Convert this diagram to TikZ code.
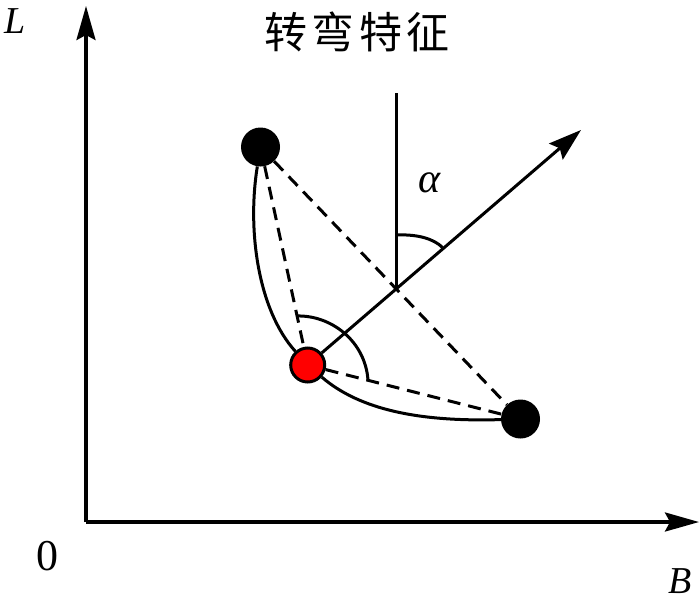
\documentclass[tikz,border=0pt]{standalone}
\usepackage{fontspec}
\setmainfont{Liberation Serif}
\newfontfamily\cjk[LetterSpace=10]{Noto Sans CJK SC}
\usetikzlibrary{arrows.meta}
\begin{document}
\begin{tikzpicture}[x=1pt,y=-1pt,
  axis/.style={line width=3.3pt,-{Stealth[length=34pt,width=19pt,inset=5pt]}},
  vec/.style={line width=3pt,-{Stealth[length=33pt,width=21pt,inset=5pt]}},
  ln/.style={line width=3pt},
  dsh/.style={line width=3pt,dash pattern=on 13pt off 8pt},
  blackdot/.style={circle,fill=black,minimum size=39pt,inner sep=0pt},
  reddot/.style={circle,fill=red,draw=black,line width=3pt,minimum size=34pt,inner sep=0pt},
  lbl/.style={inner sep=0pt,font=\fontsize{38}{38}\selectfont\itshape},
  num/.style={inner sep=0pt,font=\fontsize{44}{44}\selectfont}]
\useasboundingbox (0,0) rectangle (700,602);
% axes
\coordinate (O) at (86,522);
\coordinate (Ytip) at (86,6);
\coordinate (Xtip) at (699,522);
\draw[axis] (O) -- (Ytip);
\draw[axis] (O) -- (Xtip);
\node[lbl] (L) at (15,21) {L};
\node[lbl] (B) at (680,581) {B};
\node[num] (zero) at (47,556) {0};
\node[inner sep=0pt,font=\fontsize{43}{43}\selectfont\cjk] (title) at (357,32) {转弯特征};
% points
\node[blackdot] (TL) at (260.5,147) {};
\node[reddot] (R) at (307.7,365) {};
\node[blackdot] (BR) at (520.5,419) {};
\coordinate (X) at (396,288.5);
\coordinate (V) at (396,93);
\coordinate (tip) at (581,130);
% dashed lines
\draw[dsh] (TL) -- (BR);
\draw[dsh] (TL) -- (R);
\draw[dsh] (R) -- (BR);
% solid curves
\draw[ln] (TL) .. controls (247,230) and (258,310) .. (R);
\draw[ln] (R) .. controls (360,410) and (420,422) .. (BR);
% vertical line and arrow
\draw[ln] (V) -- (X);
\draw[vec] (R) -- (tip);
% angle arcs
\coordinate (a1) at (396,235);
\coordinate (a2) at (442.5,247.5);
\draw[ln] (a1) .. controls (418,234) and (434,239) .. (a2);
\coordinate (b1) at (297,316);
\coordinate (b2) at (368,380);
\draw[ln] (b1) .. controls (330,315) and (365,340) .. (b2);
\node[lbl,font=\fontsize{42}{42}\selectfont\itshape] (alpha) at (430,183) {α};
\end{tikzpicture}
\end{document}
